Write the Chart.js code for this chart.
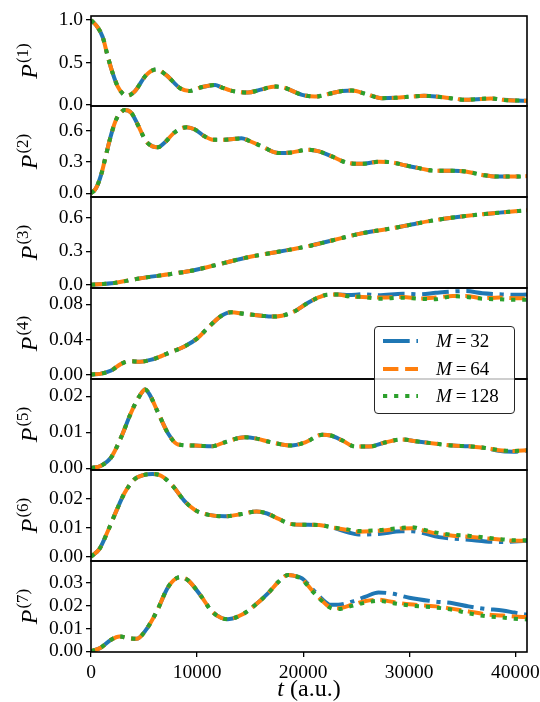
<!DOCTYPE html>
<html>
<head>
<meta charset="utf-8">
<script src="https://cdn.jsdelivr.net/npm/chart.js@4.4.1/dist/chart.umd.min.js"></script>
<style>
html,body{margin:0;padding:0;background:#fff;}
#wrap{position:relative;width:540px;height:702px;overflow:hidden;background:#fff;}
#wrap canvas{position:absolute;left:0;background:transparent;}
#legend{position:absolute;left:374px;top:326px;width:139px;height:86px;border:1.5px solid #262626;border-radius:4px;background:rgba(255,255,255,0.8);font-family:"Liberation Serif",serif;font-size:19px;color:#000;z-index:10;}
#legend .row{position:absolute;left:0;height:22px;width:139px;}
#legend svg{position:absolute;left:8px;top:6px;}
#legend span{position:absolute;left:61px;top:0;line-height:22px;white-space:pre;}
</style>
</head>
<body>
<div id="wrap"><div id="legend"></div></div>
<script>
// ---------------- DATA ----------------
const seriesNames = ["32", "64", "128"];
const xTicks = [0, 10000, 20000, 30000, 40000];
const xTickLabels = ["0", "10000", "20000", "30000", "40000"];
const panelTitles = ["(1)", "(2)", "(3)", "(4)", "(5)", "(6)", "(7)"];

// P(1)
const t1 = [0,600,1100,1600,2050,2500,3000,3400,4100,5200,6150,7100,8400,9300,10400,11700,12300,13200,14800,15900,17400,18100,19900,21100,22700,23700,24600,25900,27400,28700,30300,31400,32500,34100,35300,36400,37700,38800,39900,41100];
const p1 = [1.0,0.92,0.80,0.56,0.37,0.22,0.13,0.105,0.155,0.35,0.416,0.35,0.195,0.163,0.206,0.233,0.206,0.167,0.144,0.175,0.214,0.206,0.117,0.097,0.136,0.163,0.167,0.128,0.078,0.082,0.097,0.105,0.097,0.074,0.058,0.066,0.074,0.058,0.05,0.048];
const y1Ticks = [0, 0.5, 1.0];
const y1Labels = ["0.0", "0.5", "1.0"];

// P(2)
const t2 = [0,470,950,1420,1900,2370,2840,3150,3800,4400,5200,5800,6300,6900,7900,9000,9800,10700,11500,12600,14200,14800,16100,17700,18900,20500,21500,22700,24300,25600,27100,28400,29700,30900,32500,34100,35300,36900,38200,39900,41100];
const p2 = [0,0.048,0.176,0.369,0.561,0.706,0.776,0.796,0.77,0.658,0.497,0.449,0.44,0.481,0.584,0.632,0.61,0.545,0.513,0.513,0.526,0.507,0.449,0.385,0.391,0.417,0.401,0.353,0.289,0.282,0.302,0.295,0.266,0.241,0.215,0.215,0.209,0.176,0.16,0.16,0.165];
const y2Ticks = [0, 0.3, 0.6];
const y2Labels = ["0.0", "0.3", "0.6"];

// P(3)
const t3 = [0,2200,4400,7700,9600,12200,14800,17400,20700,22600,25500,28800,32000,35300,38500,41100];
const p3 = [0,0.015,0.053,0.098,0.127,0.186,0.246,0.29,0.349,0.393,0.459,0.512,0.571,0.615,0.645,0.666];
const y3Ticks = [0, 0.3, 0.6];
const y3Labels = ["0.0", "0.3", "0.6"];

// P(4)
const t4Common = [0,950,1900,2840,3600,4600,5700,7400,8800,10100,11000,12300,13200,14500,16100,17000,18000,19200,20500,21500,22400,23300];
const p4Common = [0,0.0011,0.0046,0.0122,0.0152,0.0147,0.017,0.025,0.032,0.042,0.053,0.067,0.071,0.069,0.067,0.066,0.067,0.072,0.082,0.088,0.091,0.091];
const t4Tail = [24300,25600,27100,29400,31000,32500,34100,35300,36900,38500,39900,41100];
const p4TailM32 = [0.0905,0.0914,0.0903,0.092,0.0914,0.093,0.0945,0.095,0.0926,0.0914,0.0907,0.091];
const p4TailM64 = [0.089,0.0884,0.0876,0.0884,0.0865,0.0876,0.0895,0.0895,0.0869,0.0876,0.0869,0.087];
const p4TailM128 = [0.089,0.0884,0.0862,0.0875,0.0862,0.0857,0.089,0.0885,0.0862,0.0857,0.085,0.085];
const y4Ticks = [0, 0.04, 0.08];
const y4Labels = ["0.00", "0.04", "0.08"];

// P(5)
const t5Common = [0,950,1900,2840,3800,4600,5100,5500,6300,7300,8200,9800,11400,12600,14500,15500,17000,18900,20200,21800,22600,23700,24900,26200,27800,29300,30600,32500,34100,35600,37200];
const p5Common = [0,0.0007,0.003,0.0086,0.0156,0.0202,0.0219,0.0206,0.0156,0.0095,0.0066,0.0063,0.0061,0.0072,0.0086,0.0083,0.0072,0.0063,0.0072,0.0093,0.0091,0.0077,0.006,0.006,0.0072,0.008,0.0075,0.0068,0.0063,0.0061,0.0056];
const t5Tail = [38800,39900,41100];
const p5TailM32 = [0.0047,0.0046,0.0049];
const p5TailM64 = [0.0049,0.0048,0.005];
const p5TailM128 = [0.0049,0.0048,0.005];
const y5Ticks = [0, 0.01, 0.02];
const y5Labels = ["0.00", "0.01", "0.02"];

// P(6)
const t6Common = [0,800,1600,2400,3150,4100,5000,5800,6600,7700,8800,9800,11000,12600,14200,15600,16600,17700,18900,20200,21500,22700];
const p6Common = [0,0.0027,0.009,0.016,0.022,0.0269,0.0284,0.0287,0.0281,0.0246,0.0194,0.0162,0.0146,0.014,0.0148,0.0157,0.015,0.0131,0.0113,0.0111,0.011,0.0102];
const t6Tail = [24300,25200,27100,29300,30300,31200,32800,34100,35600,37200,38800,39900,41100];
const p6TailM32 = [0.0084,0.0077,0.0079,0.0088,0.0088,0.0083,0.0068,0.0063,0.0059,0.0053,0.0051,0.0053,0.0055];
const p6TailM64 = [0.0092,0.0087,0.009,0.0098,0.0099,0.0092,0.0079,0.0073,0.0069,0.0064,0.0059,0.0055,0.0055];
const p6TailM128 = [0.0094,0.0089,0.0092,0.01,0.0102,0.0095,0.0082,0.0076,0.0073,0.0066,0.006,0.0057,0.0057];
const y6Ticks = [0, 0.01, 0.02];
const y6Labels = ["0.00", "0.01", "0.02"];

// P(7)
const t7Common = [0,950,1900,2700,3500,4300,5200,6200,7300,8400,9100,10300,11400,12300,12900,14200,15500,16700,17700,18600,19100];
const p7Common = [0,0.0017,0.0051,0.0065,0.0058,0.0055,0.0095,0.0175,0.0284,0.0325,0.0313,0.0247,0.0175,0.0146,0.0141,0.016,0.0204,0.0255,0.0306,0.0335,0.0332];
const t7Tail = [19900,20800,21700,22600,23300,24600,25900,27100,28500,30000,32500,34100,35600,37200,38800,39900,41100];
const p7TailM32 = [0.032,0.0277,0.0233,0.0204,0.0204,0.0218,0.024,0.0258,0.0252,0.0235,0.0218,0.0211,0.0197,0.0186,0.0179,0.017,0.016];
const p7TailM64 = [0.0317,0.0269,0.0226,0.0192,0.0189,0.0204,0.0221,0.0226,0.0216,0.0206,0.0197,0.0186,0.0175,0.0162,0.0157,0.0153,0.015];
const p7TailM128 = [0.0315,0.0267,0.0224,0.019,0.0185,0.0199,0.0214,0.0221,0.0211,0.0201,0.0192,0.0182,0.0167,0.0154,0.0148,0.0143,0.014];
const y7Ticks = [0, 0.01, 0.02, 0.03];
const y7Labels = ["0.00", "0.01", "0.02", "0.03"];

// ---------------- BUILD ----------------
const panels = [
  {t: t1, s: [p1, p1, p1], yt: y1Ticks, yl: y1Labels, min: -0.015, max: 1.048},
  {t: t2, s: [p2, p2, p2], yt: y2Ticks, yl: y2Labels, min: -0.035, max: 0.835},
  {t: t3, s: [p3, p3, p3], yt: y3Ticks, yl: y3Labels, min: -0.03, max: 0.785},
  {t: t4Common.concat(t4Tail), s: [p4Common.concat(p4TailM32), p4Common.concat(p4TailM64), p4Common.concat(p4TailM128)], yt: y4Ticks, yl: y4Labels, min: -0.005, max: 0.0985},
  {t: t5Common.concat(t5Tail), s: [p5Common.concat(p5TailM32), p5Common.concat(p5TailM64), p5Common.concat(p5TailM128)], yt: y5Ticks, yl: y5Labels, min: -0.0005, max: 0.0248},
  {t: t6Common.concat(t6Tail), s: [p6Common.concat(p6TailM32), p6Common.concat(p6TailM64), p6Common.concat(p6TailM128)], yt: y6Ticks, yl: y6Labels, min: -0.0015, max: 0.0301},
  {t: t7Common.concat(t7Tail), s: [p7Common.concat(p7TailM32), p7Common.concat(p7TailM64), p7Common.concat(p7TailM128)], yt: y7Ticks, yl: y7Labels, min: -0.0003, max: 0.0396}
];

const colors = ["#1f77b4", "#ff7f0e", "#2ca02c"];
const dashes = [[26.7, 6.7, 4.2, 6.7], [15.4, 6.7], [4.2, 6.9]];
const LW = 4;
const edges = [16, 106, 197, 288, 379, 470, 561, 652];
const PAD = 20;
const XAXIS_H = 702 - 652;
const SERIF = "'Liberation Serif', 'Times New Roman', serif";
const tickFont = {family: SERIF, size: 19.5};
const TICK_LEN = 5;

const framePlugin = {
  id: 'frame',
  afterDatasetsDraw(chart) {
    const a = chart.chartArea, c = chart.ctx;
    c.save();
    c.strokeStyle = '#000';
    c.lineWidth = 1.6;
    c.strokeRect(a.left, a.top, a.right - a.left, a.bottom - a.top);
    c.restore();
  }
};

function labelPlugin(idx, isLast) {
  return {
    id: 'lbl' + idx,
    afterDraw(chart) {
      const c = chart.ctx, a = chart.chartArea;
      c.save();
      c.fillStyle = '#000';
      c.textBaseline = 'alphabetic';
      c.textAlign = 'left';
      const fP = "italic 24px " + SERIF, fS = "17px " + SERIF;
      c.font = fP; const wP = c.measureText('P').width;
      c.font = fS; const wS = c.measureText(panelTitles[idx]).width;
      const W = wP + 1 + wS;
      const cy = (a.top + a.bottom) / 2;
      c.translate(37, cy);
      c.rotate(-Math.PI / 2);
      c.font = fP; c.fillText('P', -W / 2, 0);
      c.font = fS; c.fillText(panelTitles[idx], -W / 2 + wP + 1, -9);
      c.restore();
      if (isLast) {
        c.save();
        c.fillStyle = '#000';
        c.textBaseline = 'alphabetic';
        c.textAlign = 'left';
        const f1 = "italic 24px " + SERIF, f2 = "24px " + SERIF;
        c.font = f1; const w1 = c.measureText('t').width;
        c.font = f2; const w2 = c.measureText(' (a.u.)').width;
        const cx = (a.left + a.right) / 2;
        const x0 = cx - (w1 + w2) / 2;
        const yb = a.bottom + 44;
        c.font = f1; c.fillText('t', x0, yb);
        c.font = f2; c.fillText(' (a.u.)', x0 + w1, yb);
        c.restore();
      }
    }
  };
}

const wrap = document.getElementById('wrap');
panels.forEach((p, i) => {
  const isLast = i === panels.length - 1;
  const top = edges[i] - PAD;
  const h = (edges[i + 1] - edges[i]) + PAD + (isLast ? XAXIS_H : PAD);
  const cv = document.createElement('canvas');
  cv.width = 540; cv.height = h;
  cv.style.top = top + 'px';
  cv.style.width = '540px'; cv.style.height = h + 'px';
  cv.style.zIndex = String(i + 1);
  wrap.appendChild(cv);
  const datasets = p.s.map((vals, k) => ({
    label: 'M = ' + seriesNames[k],
    data: p.t.map((x, j) => ({x: x, y: vals[j]})),
    borderColor: colors[k],
    borderWidth: LW,
    borderDash: dashes[k],
    borderCapStyle: 'butt',
    borderJoinStyle: 'round',
    pointRadius: 0,
    fill: false,
    cubicInterpolationMode: 'monotone',
    order: 3 - k
  }));
  const xScale = {
    type: 'linear', min: 0, max: 41100, display: isLast,
    afterBuildTicks: s => { s.ticks = xTicks.map(v => ({value: v})); },
    ticks: {callback: (v) => xTickLabels[xTicks.indexOf(v)], font: tickFont, color: '#000', padding: 4, maxRotation: 0, autoSkip: false, source: 'data'},
    grid: {drawOnChartArea: false, drawTicks: true, tickLength: TICK_LEN, color: '#000', lineWidth: 1.3},
    border: {display: false}
  };
  if (isLast) xScale.afterFit = s => { s.height = XAXIS_H; s.paddingLeft = 0; s.paddingRight = 0; };
  new Chart(cv.getContext('2d'), {
    type: 'line',
    data: {datasets},
    options: {
      responsive: false,
      animation: false,
      devicePixelRatio: 1,
      events: [],
      layout: {padding: {top: PAD, bottom: isLast ? 0 : PAD, left: 0, right: 13}},
      plugins: {legend: {display: false}, tooltip: {enabled: false}},
      scales: {
        x: xScale,
        y: {
          type: 'linear', min: p.min, max: p.max,
          afterFit: s => { s.width = 91; s.paddingTop = 0; s.paddingBottom = 0; },
          afterBuildTicks: s => { s.ticks = p.yt.map(v => ({value: v})); },
          ticks: {callback: (v) => p.yl[p.yt.indexOf(v)], font: tickFont, color: '#000', padding: 3, autoSkip: false, source: 'data'},
          grid: {drawOnChartArea: false, drawTicks: true, tickLength: TICK_LEN, color: '#000', lineWidth: 1.3},
          border: {display: false}
        }
      }
    },
    plugins: [framePlugin, labelPlugin(i, isLast)]
  });
});

// legend (HTML overlay)
const legend = document.getElementById('legend');
const rowTops = [3, 30.5, 58];
seriesNames.forEach((n, k) => {
  const row = document.createElement('div');
  row.className = 'row';
  row.style.top = rowTops[k] + 'px';
  const svgNS = 'http://www.w3.org/2000/svg';
  const svg = document.createElementNS(svgNS, 'svg');
  svg.setAttribute('width', '35'); svg.setAttribute('height', '10');
  const ln = document.createElementNS(svgNS, 'line');
  ln.setAttribute('x1', '0'); ln.setAttribute('y1', '5');
  ln.setAttribute('x2', '35'); ln.setAttribute('y2', '5');
  ln.setAttribute('stroke', colors[k]);
  ln.setAttribute('stroke-width', String(LW));
  ln.setAttribute('stroke-dasharray', dashes[k].join(' '));
  svg.appendChild(ln);
  row.appendChild(svg);
  const sp = document.createElement('span');
  sp.innerHTML = '<i>M</i>\u2009=\u2009' + n;
  row.appendChild(sp);
  legend.appendChild(row);
});
</script>
</body>
</html>
